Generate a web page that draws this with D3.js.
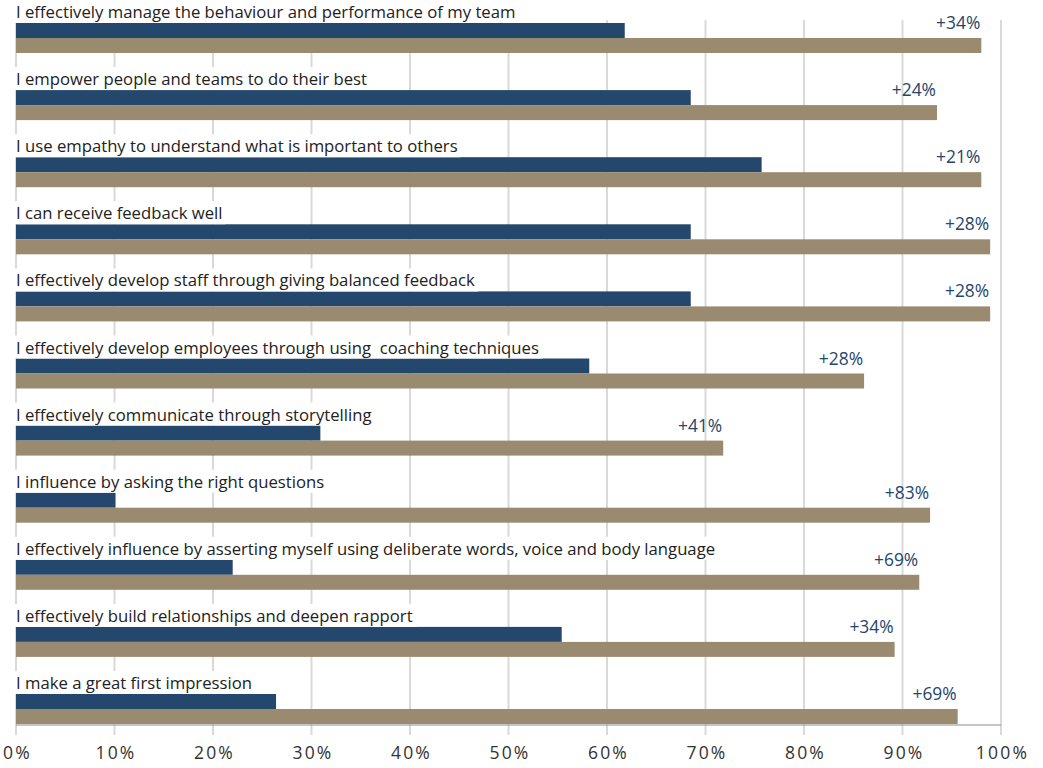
<!DOCTYPE html>
<html>
<head>
<meta charset="utf-8">
<script src="https://cdn.jsdelivr.net/npm/d3@7"></script>
<style>
  html, body { margin: 0; padding: 0; background: #fff; }
  svg { display: block; font-family: "Open Sans", "Noto Sans", sans-serif; }
  text { white-space: pre; }
</style>
</head>
<body>
<svg id="chart" width="1043" height="768"></svg>
<script>
const categories = [
  "I effectively manage the behaviour and performance of my team",
  "I empower people and teams to do their best",
  "I use empathy to understand what is important to others",
  "I can receive feedback well",
  "I effectively develop staff through giving balanced feedback",
  "I effectively develop employees through using  coaching techniques",
  "I effectively communicate through storytelling",
  "I influence by asking the right questions",
  "I effectively influence by asserting myself using deliberate words, voice and body language",
  "I effectively build relationships and deepen rapport",
  "I make a great first impression"
];
const beforeValues = [61.8, 68.5, 75.7, 68.5, 68.5, 58.2, 30.9, 10.1, 22.0, 55.4, 26.4];
const afterValues  = [98.0, 93.5, 98.0, 98.9, 98.9, 86.1, 71.8, 92.8, 91.7, 89.2, 95.6];
const changeLabels = ["+34%", "+24%", "+21%", "+28%", "+28%", "+28%", "+41%", "+83%", "+69%", "+34%", "+69%"];
const xTicks = [0, 10, 20, 30, 40, 50, 60, 70, 80, 90, 100];

const colBefore = "#24486d";
const colAfter = "#9a8a6f";
const colLabel = "#26466d";

const svg = d3.select("#chart");
const axisY = 725;
const step = 67.1;
const barH = 15;

const x = d3.scaleLinear().domain([0, 100]).range([16, 1001]);
const y = d3.scaleBand().domain(categories)
  .range([axisY + 1 - step * categories.length, axisY + 1]).paddingInner(0).paddingOuter(0);

// gridlines
svg.append("g").selectAll("line").data(xTicks).join("line")
  .attr("x1", d => x(d)).attr("x2", d => x(d))
  .attr("y1", 20).attr("y2", axisY + 10)
  .attr("stroke", "#d9d9d9").attr("stroke-width", 2);

const rows = svg.append("g").selectAll("g").data(categories).join("g");

// bars
rows.append("rect")
  .attr("x", x(0))
  .attr("y", d => y(d) + y.bandwidth() - 2 - 2 * barH)
  .attr("width", (d, i) => x(beforeValues[i]) - x(0))
  .attr("height", barH)
  .attr("fill", colBefore);
rows.append("rect")
  .attr("x", x(0))
  .attr("y", d => y(d) + y.bandwidth() - 2 - barH)
  .attr("width", (d, i) => x(afterValues[i]) - x(0))
  .attr("height", barH)
  .attr("fill", colAfter);

// category labels with white background
const labelGroups = rows.append("g");
const labelTexts = labelGroups.append("text")
  .attr("x", x(0))
  .attr("y", d => y(d) + y.bandwidth() - 2 - 2 * barH - 5)
  .attr("font-size", 16.7)
  .attr("fill", "#222")
  .text(d => d);
labelTexts.each(function() {
  const bb = this.getBBox();
  d3.select(this.parentNode).insert("rect", "text")
    .attr("x", bb.x - 6).attr("y", bb.y)
    .attr("width", bb.width + 12).attr("height", bb.height)
    .attr("rx", 4)
    .attr("fill", "#fff");
});

// change labels
rows.append("text")
  .attr("x", (d, i) => x(afterValues[i]) - 1)
  .attr("y", d => y(d) + y.bandwidth() - 2 - barH - 9)
  .attr("text-anchor", "end")
  .attr("font-size", 17.4)
  .attr("fill", colLabel)
  .text((d, i) => changeLabels[i]);

// axis line
svg.append("line")
  .attr("x1", x(0)).attr("x2", x(100))
  .attr("y1", axisY).attr("y2", axisY)
  .attr("stroke", "#8c8c8c").attr("stroke-width", 1);

// x axis tick labels
const xAxis = d3.axisBottom(x).tickValues(xTicks).tickFormat(d => d + "%").tickSize(0).tickPadding(0);
const gx = svg.append("g").attr("transform", `translate(0, ${axisY + 22})`).call(xAxis);
gx.select(".domain").remove();
gx.selectAll("text")
  .attr("font-family", "'Open Sans', 'Noto Sans', sans-serif")
  .attr("font-size", 17.5)
  .attr("letter-spacing", 2.2)
  .attr("dx", 1)
  .attr("fill", "#333");
</script>
</body>
</html>
